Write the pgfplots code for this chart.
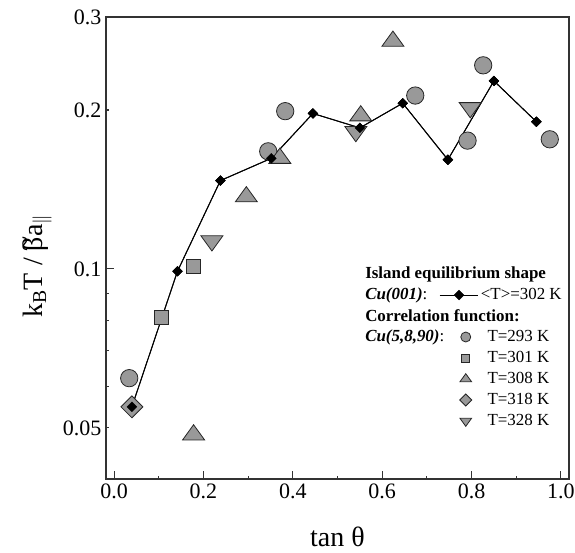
\documentclass[border=0pt]{standalone}
\usepackage{fontspec}
\setmainfont{Liberation Serif}
\usepackage{pgfplots}
\pgfplotsset{compat=1.18}
\usepackage{pgfplotstable}

\pgfplotstableread{
x y
0.040 0.0548
0.142 0.099
0.238 0.147
0.352 0.162
0.445 0.197
0.550 0.185
0.646 0.206
0.747 0.161
0.850 0.227
0.945 0.190
}\avgdata

\pgfplotstableread{
x y
0.034 0.0621
0.345 0.167
0.383 0.199
0.674 0.213
0.791 0.175
0.826 0.243
0.975 0.176
}\circdata

\pgfplotstableread{
x y
0.106 0.0808
0.178 0.101
}\sqdata

\pgfplotstableread{
x y
0.178 0.0485
0.296 0.1370
0.371 0.162
0.552 0.195
0.624 0.270
}\tridata

\pgfplotstableread{
x y
0.040 0.0548
}\diadata

\pgfplotstableread{
x y
0.219 0.1130
0.541 0.182
0.797 0.202
}\itridata

\pgfplotsset{
  gm/.style={only marks, mark options={fill=black!40, draw=black!85, line width=0.6pt,#1}},
  gm/.default={},
  avgline/.style={black, line width=0.7pt, mark=square*, mark size=2.6pt,
     mark options={rotate=45, fill=black, draw=black, line width=0.3pt}},
  avglegend/.style={legend image code/.code={\draw[mark repeat=2,mark phase=2,##1] plot coordinates {(0pt,0pt) (14.5pt,0pt) (29pt,0pt)};}},
}
\newcommand{\tbeta}{\ooalign{β\cr\hidewidth\raisebox{0.28em}{\~{}}\hidewidth\cr}}

\begin{document}
\begin{tikzpicture}
\begin{axis}[
  name=ax,
  scale only axis, width=347.25pt, height=346.5pt,
  ymode=log,
  xmin=-0.018, xmax=1.018, ymin=0.04, ymax=0.3,
  xtick={0,0.2,0.4,0.6,0.8,1.0},
  minor xtick={0.1,0.3,0.5,0.7,0.9},
  ytick={0.1}, yticklabels={0.1},
  extra y ticks={0.05,0.2,0.3}, extra y tick labels={0.05,0.2,0.3},
  extra y tick style={major tick length=2.6pt},
  minor ytick={0.06,0.07,0.08,0.09},
  tick align=inside, tick pos=left,
  major tick length=6pt, minor tick length=2.6pt,
  every tick/.style={black!80, line width=0.8pt},
  axis line style={black!80, line width=1.3pt},
  /pgf/number format/assume math mode=true,
  ticklabel style={font=\fontsize{16.5}{19}\selectfont},
  xticklabel style={/pgf/number format/.cd, fixed, fixed zerofill, precision=1},
  xlabel={tan θ},
  ylabel={k\textsubscript{B}T / \tbeta a\textsubscript{$\|$}},
  label style={font=\fontsize{21}{25}\selectfont},
  xlabel style={at={(axis description cs:0.5,-0.147)}, anchor=base},
  ylabel style={at={(axis description cs:-0.149,0.461)}, anchor=center},
  clip=false,
  legend cell align=left,
  legend style={at={(0.7192,0.2619)}, anchor=west, draw=none, fill=none,
    inner sep=0pt, row sep=0pt,
    font=\fontsize{12.7}{15}\selectfont,
    nodes={inner ysep=1pt, inner xsep=1.5pt, text height=10.5pt, text depth=3.25pt}},
]
\addplot[avgline, avglegend] table {\avgdata};
\addlegendentry{\textless T\textgreater=302 K}
\addlegendimage{empty legend}
\addlegendentry{}
\addplot[gm, mark=*, mark size=6.5pt, legend image post style={xshift=11pt, mark size=3.75pt}] table {\circdata};
\addlegendentry{\hspace{5pt}T=293 K}
\addplot[gm, mark=square*, mark size=5.25pt, legend image post style={xshift=11pt, mark size=3pt}] table {\sqdata};
\addlegendentry{\hspace{5pt}T=301 K}
\addplot[gm={yscale=0.8}, mark=triangle*, mark size=9.5pt, legend image post style={xshift=11pt, mark size=5pt}] table {\tridata};
\addlegendentry{\hspace{5pt}T=308 K}
\addplot[gm={rotate=45}, mark=square*, mark size=5.8pt, legend image post style={xshift=11pt, mark size=3.2pt}] table {\diadata};
\addlegendentry{\hspace{5pt}T=318 K}
\addplot[gm={rotate=180, yscale=0.8}, mark=triangle*, mark size=9.5pt, legend image post style={xshift=11pt, mark size=5pt}] table {\itridata};
\addlegendentry{\hspace{5pt}T=328 K}
\addplot[avgline, forget plot] table {\avgdata};

\node[anchor=west, inner sep=0pt, font=\fontsize{12.7}{15}\selectfont] at (rel axis cs:0.5594,0.4437) {\textbf{Island equilibrium shape}};
\node[anchor=west, inner sep=0pt, font=\fontsize{12.7}{15}\selectfont] at (rel axis cs:0.5594,0.398) {\textbf{\textit{Cu(001)}}:};
\node[anchor=west, inner sep=0pt, font=\fontsize{12.7}{15}\selectfont] at (rel axis cs:0.5594,0.3528) {\textbf{Correlation function:}};
\node[anchor=west, inner sep=0pt, font=\fontsize{12.7}{15}\selectfont] at (rel axis cs:0.5594,0.3074) {\textbf{\textit{Cu(5,8,90)}}:};
\end{axis}
\pgfresetboundingbox
\path ([shift={(-79.5pt,-55.5pt)}]ax.south west) rectangle ([shift={(4.5pt,12.75pt)}]ax.north east);
\end{tikzpicture}
\end{document}
